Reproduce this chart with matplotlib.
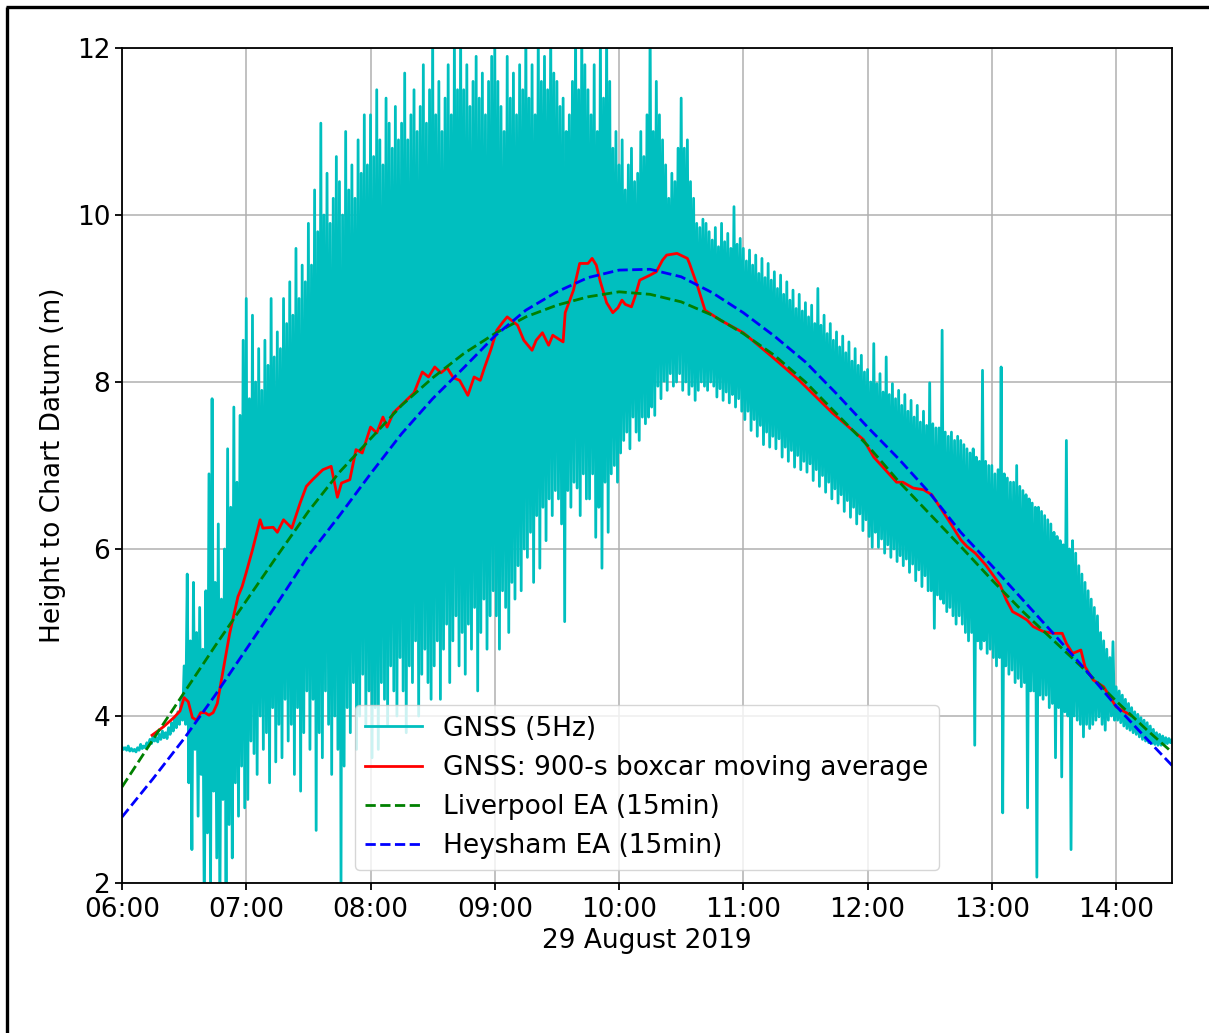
import numpy as np
import matplotlib
matplotlib.use("Agg")
import matplotlib.pyplot as plt
import matplotlib.dates as mdates
from matplotlib.lines import Line2D

# ---------------------------------------------------------------------------
# Data (times are minutes after 06:00 on 29 August 2019, heights in metres)
# ---------------------------------------------------------------------------
day_start = np.datetime64("2019-08-29T06:00:00")

# GNSS 5 Hz record, summarised as the upper / lower excursion in each
# 90-second window (one row = 15 minutes)
gnss_step_min = 1.5
gnss_hi = [
    3.63, 3.62, 3.64, 3.61, 3.60, 3.62, 3.66, 3.64, 3.68, 3.72,   # 06:00
    3.76, 3.74, 3.78, 3.82, 3.80, 3.86, 3.92, 3.98, 4.05, 4.20,
    4.60, 5.70, 4.90, 5.60, 5.00, 5.30, 4.80, 5.50, 6.90, 7.80,
    5.60, 6.30, 5.40, 6.00, 7.20, 6.50, 7.70, 6.80, 7.60, 8.50,
    9.00, 7.80, 8.80, 8.00, 8.40, 7.90, 8.50, 8.20, 9.00, 8.30,   # 07:00
    8.60, 8.40, 9.00, 8.70, 9.20, 8.80, 9.60, 9.00, 9.40, 9.20,
    9.90, 9.40, 10.3, 9.80, 11.1, 10.0, 10.5, 9.90, 10.2, 10.7,
    10.4, 10.0, 11.0, 10.3, 10.6, 10.2, 10.9, 10.5, 11.2, 10.6,
    11.2, 10.7, 11.5, 10.9, 10.6, 11.4, 11.1, 10.8, 11.3, 10.9,   # 08:00
    11.1, 11.7, 10.9, 11.2, 11.5, 11.0, 11.3, 11.8, 11.1, 11.5,
    12.3, 11.2, 11.6, 11.0, 11.4, 11.8, 11.2, 12.2, 11.5, 12.3,
    11.5, 11.8, 11.3, 11.6, 11.9, 11.4, 11.7, 11.2, 11.6, 11.9,
    12.1, 11.6, 11.3, 11.0, 11.9, 11.4, 11.7, 11.2, 11.8, 11.5,   # 09:00
    12.3, 11.4, 11.8, 11.2, 12.3, 11.6, 11.9, 11.5, 12.3, 11.7,
    11.6, 11.3, 11.4, 11.0, 11.2, 11.6, 12.3, 11.5, 12.3, 11.8,
    11.5, 11.2, 11.8, 11.0, 12.3, 11.4, 12.3, 11.6, 10.8, 11.0,
    10.6, 10.9, 10.3, 10.6, 10.8, 10.4, 10.5, 11.0, 10.7, 11.2,   # 10:00
    12.3, 11.0, 11.6, 11.2, 10.9, 10.6, 10.2, 10.5, 10.4, 10.8,
    11.4, 10.8, 10.9, 10.4, 10.2, 9.90, 9.85, 9.95, 9.90, 9.80,
    9.70, 9.85, 9.62, 9.90, 9.68, 9.78, 9.60, 10.1, 9.65, 9.72,
    9.60, 9.45, 9.58, 9.40, 9.52, 9.30, 9.48, 9.25, 9.42, 9.22,   # 11:00
    9.32, 9.12, 9.28, 9.05, 9.20, 8.98, 9.10, 8.88, 9.05, 8.85,
    8.95, 8.78, 8.92, 8.70, 9.12, 8.68, 8.80, 8.58, 8.70, 8.50,
    8.60, 8.42, 8.55, 8.35, 8.48, 8.25, 8.40, 8.20, 8.32, 8.12,
    8.15, 8.00, 8.46, 7.98, 8.10, 7.88, 8.30, 7.85, 7.98, 7.80,   # 12:00
    7.90, 7.72, 7.85, 7.65, 7.78, 7.58, 7.72, 7.52, 7.65, 7.48,
    7.99, 7.50, 7.45, 7.45, 8.62, 7.40, 7.35, 7.40, 7.30, 7.35,
    7.30, 7.25, 7.20, 7.15, 7.20, 7.10, 7.05, 8.14, 7.05, 7.00,
    7.00, 6.90, 6.95, 8.18, 6.90, 6.85, 6.80, 6.80, 7.00, 6.75,   # 13:00
    6.70, 6.65, 6.60, 6.55, 6.50, 6.50, 6.45, 6.40, 6.35, 6.30,
    6.20, 6.15, 6.10, 6.05, 7.30, 6.00, 6.10, 5.95, 5.80, 5.70,
    5.60, 5.50, 5.40, 5.30, 5.20, 5.00, 4.90, 4.80, 4.70, 4.89,
    4.35, 4.30, 4.25, 4.20, 4.15, 4.10, 4.05, 4.02, 3.98, 3.95,   # 14:00
    3.92, 3.88, 3.84, 3.80, 3.78, 3.76, 3.74, 3.73, 3.72,
]
gnss_lo = [
    3.60, 3.59, 3.58, 3.58, 3.57, 3.59, 3.61, 3.62, 3.64, 3.67,   # 06:00
    3.70, 3.69, 3.72, 3.74, 3.73, 3.78, 3.82, 3.86, 3.90, 3.95,
    3.90, 3.20, 2.40, 3.60, 2.80, 3.30, 1.50, 2.60, 1.80, 3.10,
    2.30, 1.60, 3.00, 1.90, 2.70, 2.30, 3.20, 2.80, 3.40, 2.90,
    3.00, 3.70, 3.55, 3.30, 4.00, 3.60, 3.80, 3.20, 4.10, 3.45,   # 07:00
    3.90, 3.50, 4.20, 3.70, 3.90, 3.30, 4.10, 3.10, 3.80, 4.30,
    3.60, 4.20, 2.63, 3.80, 3.50, 4.30, 3.90, 3.30, 4.00, 3.60,
    2.00, 3.40, 4.10, 3.80, 4.40, 3.60, 4.00, 4.50, 3.90, 4.30,
    3.50, 4.10, 3.60, 4.40, 4.20, 3.90, 4.60, 4.30, 4.00, 4.70,   # 08:00
    4.30, 3.80, 4.60, 4.40, 4.90, 4.00, 4.50, 4.80, 4.40, 4.20,
    4.60, 4.90, 4.20, 4.80, 5.10, 4.40, 4.90, 5.20, 4.60, 5.00,
    4.50, 5.10, 4.80, 5.30, 4.30, 5.00, 5.40, 4.80, 5.20, 5.50,
    5.20, 4.80, 5.50, 5.30, 5.00, 5.60, 5.40, 5.80, 5.50, 6.00,   # 09:00
    5.90, 6.20, 5.60, 6.40, 5.77, 6.50, 6.10, 6.60, 6.40, 6.70,
    6.60, 6.30, 5.13, 6.70, 6.50, 6.80, 6.73, 6.40, 6.90, 6.60,
    6.60, 6.90, 6.14, 6.50, 5.77, 6.80, 6.20, 6.90, 7.00, 6.80,
    7.15, 7.30, 7.40, 7.20, 7.58, 7.40, 7.30, 7.58, 7.50, 7.58,   # 10:00
    7.70, 7.60, 7.95, 7.80, 8.01, 7.90, 8.10, 7.95, 8.00, 8.10,
    7.90, 8.00, 7.85, 7.95, 7.78, 7.90, 8.00, 7.95, 7.90, 8.00,
    7.95, 7.82, 7.92, 7.78, 7.88, 7.75, 7.85, 7.70, 7.80, 7.65,
    7.55, 7.65, 7.42, 7.55, 7.35, 7.48, 7.25, 7.40, 7.22, 7.35,   # 11:00
    7.20, 7.32, 7.10, 7.22, 7.05, 7.18, 6.98, 7.12, 6.95, 7.05,
    6.92, 7.02, 6.82, 6.95, 6.75, 6.88, 6.68, 6.80, 6.60, 6.72,
    6.55, 6.65, 6.45, 6.58, 6.38, 6.50, 6.30, 6.42, 6.22, 6.35,
    6.15, 6.02, 6.20, 6.02, 6.12, 5.95, 6.05, 5.90, 6.00, 5.85,   # 12:00
    5.92, 5.80, 5.88, 5.72, 5.82, 5.62, 5.75, 5.55, 5.68, 5.50,
    5.50, 5.05, 5.45, 5.40, 5.35, 5.25, 5.30, 5.20, 5.10, 5.20,
    5.10, 5.00, 4.90, 5.00, 3.65, 4.90, 4.80, 4.90, 4.75, 4.80,
    4.70, 4.60, 4.70, 2.84, 4.60, 4.50, 4.55, 4.40, 4.45, 4.35,   # 13:00
    4.40, 2.90, 4.30, 4.30, 2.07, 4.25, 4.20, 4.25, 4.10, 4.15,
    3.50, 4.10, 3.27, 4.05, 4.00, 2.40, 4.00, 3.95, 3.90, 3.75,
    3.90, 3.85, 3.90, 3.95, 3.99, 3.90, 3.83, 3.95, 4.00, 3.95,
    3.95, 3.92, 3.88, 3.85, 3.83, 3.80, 3.78, 3.75, 3.72, 3.70,   # 14:00
    3.68, 3.67, 3.66, 3.65, 3.65, 3.66, 3.67, 3.68, 3.68,
]

# 900-s boxcar moving average of the GNSS heights
avg_min = [
    14.5, 20, 25, 28, 30, 32, 34, 36, 38, 40, 42, 44, 46, 48, 50, 52, 54, 56,
    58, 60, 63, 66.7, 68, 73, 75, 78, 82, 86, 89, 92, 97, 101, 104, 106, 110,
    113, 116, 120, 123, 126, 128, 131, 136, 141, 145, 148, 151, 154, 157, 160,
    163, 167, 170, 173, 175, 178, 181, 184, 186, 191, 194, 198, 200, 203, 206,
    208, 213, 214, 218, 221, 225, 227, 229, 231, 234, 237, 239.5, 241.4, 243,
    246, 247.7, 250, 255, 258, 261, 263, 268, 273, 274, 278, 281.5, 289, 300,
    314, 327, 343, 358, 363, 374, 377, 382, 387, 391, 395, 400, 405, 408, 412,
    417, 424, 427, 430, 433, 437, 440, 445, 450, 454, 456, 459, 463, 465, 469,
    474, 477, 480, 487,
]
avg_val = [
    3.77, 3.87, 3.98, 4.06, 4.22, 4.17, 3.98, 3.95, 4.04, 4.04, 4.01, 4.04,
    4.15, 4.43, 4.71, 4.99, 5.21, 5.43, 5.55, 5.72, 5.99, 6.35, 6.25, 6.26,
    6.20, 6.35, 6.25, 6.55, 6.75, 6.83, 6.95, 6.99, 6.62, 6.79, 6.83, 7.19,
    7.15, 7.46, 7.39, 7.58, 7.46, 7.63, 7.75, 7.87, 8.12, 8.06, 8.18, 8.11,
    8.17, 8.05, 8.02, 7.84, 8.06, 8.02, 8.17, 8.38, 8.62, 8.72, 8.78, 8.68,
    8.50, 8.38, 8.50, 8.59, 8.44, 8.56, 8.48, 8.83, 9.10, 9.42, 9.42, 9.48,
    9.40, 9.20, 8.95, 8.83, 8.89, 8.98, 8.93, 8.90, 9.02, 9.22, 9.28, 9.32,
    9.46, 9.52, 9.54, 9.48, 9.42, 9.14, 8.86, 8.74, 8.59, 8.30, 8.02, 7.63,
    7.31, 7.10, 6.80, 6.80, 6.73, 6.71, 6.65, 6.50, 6.31, 6.11, 6.03, 5.95,
    5.81, 5.57, 5.39, 5.25, 5.21, 5.15, 5.07, 5.01, 4.99, 4.99, 4.87, 4.75,
    4.79, 4.59, 4.43, 4.35, 4.23, 4.11, 4.01,
]

# Environment Agency tide gauges, 15-minute values from 06:00 to 14:30
ea_step_min = 15
liverpool = [
    3.15, 3.72, 4.28, 4.84, 5.38, 5.92, 6.45, 6.92, 7.32, 7.72, 8.05, 8.34,
    8.58, 8.78, 8.92, 9.02, 9.08, 9.05, 8.96, 8.80, 8.58, 8.32, 8.00, 7.62,
    7.24, 6.81, 6.42, 6.03, 5.63, 5.25, 4.90, 4.55, 4.18, 3.83, 3.50,
]
heysham = [
    2.79, 3.25, 3.73, 4.25, 4.80, 5.35, 5.92, 6.40, 6.90, 7.38, 7.80, 8.17,
    8.55, 8.86, 9.08, 9.25, 9.34, 9.35, 9.26, 9.07, 8.83, 8.55, 8.24, 7.86,
    7.46, 7.08, 6.67, 6.20, 5.80, 5.39, 4.98, 4.56, 4.12, 3.72, 3.33,
]

x_range_min = (0, 507)
y_range = (2, 12)
y_ticks = [2, 4, 6, 8, 10, 12]


def to_time(minutes):
    secs = np.round(np.asarray(minutes, dtype=float) * 60).astype(int)
    return day_start + secs * np.timedelta64(1, "s")


def step_times(values, step):
    return to_time(np.arange(len(values)) * step)


# ---------------------------------------------------------------------------
# Figure
# ---------------------------------------------------------------------------
plt.rcParams["font.family"] = ["DejaVu Sans"]
plt.rcParams["font.size"] = 19

W, H = 1209, 1033
fig = plt.figure(figsize=(W / 100, H / 100), dpi=100)
ax = fig.add_axes([122 / W, 1 - 883 / H, (1172 - 122) / W, (883 - 48) / H])

# GNSS trace: swing from the upper to the lower excursion of each window
n = len(gnss_hi)
g_min = np.empty(2 * n)
g_val = np.empty(2 * n)
g_min[0::2] = np.arange(n) * gnss_step_min
g_min[1::2] = np.arange(n) * gnss_step_min + gnss_step_min / 2
g_val[0::2] = gnss_hi
g_val[1::2] = gnss_lo
ax.plot(to_time(g_min), g_val, color="c", lw=2.0, label="GNSS (5Hz)")

ax.plot(to_time(avg_min), avg_val, color="red", lw=2.0,
        label="GNSS: 900-s boxcar moving average")
ax.plot(step_times(liverpool, ea_step_min), liverpool, color="green", ls="--",
        lw=2.0, label="Liverpool EA (15min)")
ax.plot(step_times(heysham, ea_step_min), heysham, color="blue", ls="--",
        lw=2.0, label="Heysham EA (15min)")

ax.set_xlim(to_time(x_range_min[0]), to_time(x_range_min[1]))
ax.set_ylim(*y_range)
ax.set_yticks(y_ticks)
ax.xaxis.set_major_locator(mdates.HourLocator())
ax.xaxis.set_major_formatter(mdates.DateFormatter("%H:%M"))
ax.grid(True, color="#b0b0b0", lw=1.1)
ax.set_axisbelow(True)
for s in ax.spines.values():
    s.set_linewidth(1.3)
ax.tick_params(length=5, width=1.3)
ax.tick_params(axis="x", pad=5)

ax.set_xlabel("29 August 2019", labelpad=4)
ax.set_ylabel("Height to Chart Datum (m)", labelpad=8)

leg = ax.legend(loc="lower center", framealpha=0.8, handlelength=2.15,
                handletextpad=0.8, borderaxespad=0.5, labelspacing=0.5)
for h in leg.get_lines():
    h.set_linewidth(2.0)

# frame around the figure
fig.add_artist(Line2D([7 / W, 7 / W], [0, 1 - 7 / H], color="black", lw=2.4,
                      transform=fig.transFigure, solid_capstyle="butt"))
fig.add_artist(Line2D([7 / W - 0.0009, 1], [1 - 7 / H, 1 - 7 / H], color="black",
                      lw=2.4, transform=fig.transFigure, solid_capstyle="butt"))

fig.savefig("out.png", dpi=100)
